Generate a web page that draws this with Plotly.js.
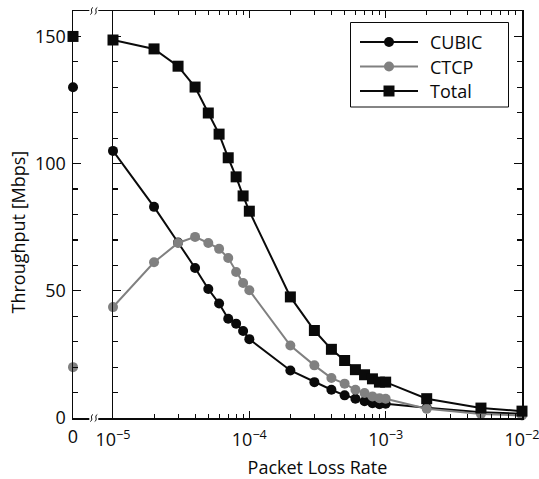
<!DOCTYPE html>
<html><head><meta charset="utf-8">
<script src="https://cdn.plot.ly/plotly-3.0.1.min.js"></script>
<style>html,body{margin:0;padding:0;background:#fff}</style>
</head><body><div id="chart" style="width:539px;height:479px"></div>
<script>
// ---- data ----
const lossRates = [1e-5,2e-5,3e-5,4e-5,5e-5,6e-5,7e-5,8e-5,9e-5,1e-4,2e-4,3e-4,4e-4,5e-4,6e-4,7e-4,8e-4,9e-4,1e-3,2e-3,5e-3,1e-2];
const cubic = [105,83,69,59,50.7,45,39,37.1,34.2,31,18.7,14.1,11.1,8.9,7.6,6.6,5.8,5.4,5.6,4.0,2.3,1.7];
const ctcp  = [43.6,61.2,68.8,71.2,68.8,66.5,62.9,57.4,53.1,50.2,28.5,20.7,15.7,13.5,11.1,9.8,8.5,7.8,7.6,3.6,1.6,1.0];
const total = [148.6,145.1,138.3,130.1,119.9,111.6,102.3,94.8,87.3,81.3,47.6,34.4,27.0,22.6,19.0,17.0,15.4,14.1,14.1,7.6,3.9,2.7];
const zeroLoss = [0];
const cubicZero = [130];
const ctcpZero = [20];
const totalZero = [150];
const seriesNames = ['CUBIC','CTCP','Total'];
const yTicks = [0,50,100,150];
const yMinor = [10,20,30,40,60,70,80,90,110,120,130,140,160];
const xTicks = [1e-5,1e-4,1e-3,1e-2];
const xTickText = ['10<sup>\u22125</sup>','10<sup>\u22124</sup>','10<sup>\u22123</sup>','10<sup>\u22122</sup>'];
const xMinor = [];
[1e-5,1e-4,1e-3].forEach(d => { for (let k=2;k<=9;k++) xMinor.push(k*d); });

// ---- styling ----
const BLACK = '#0a0a0a', GREY = '#808080';
const W = 539, H = 479, L = 73, R = 17, T = 11, B = 61;
const pw = W - L - R, ph = H - T - B;
const splitPx = 113;
const split = (splitPx - L) / pw;
const FONT = 'Open Sans, sans-serif';
const FS = 18;
const EPS = 1e-6; // keep the end points inside the axis range despite float rounding
const seriesStyle = [
  {color: BLACK, symbol: 'circle', size: 10},
  {color: GREY, symbol: 'circle', size: 10},
  {color: BLACK, symbol: 'square', size: 11}
];

function mk(i, x, y, xa, ya) {
  const s = seriesStyle[i];
  return {
    type: 'scatter', mode: 'lines+markers', name: seriesNames[i], x: x, y: y,
    xaxis: xa, yaxis: ya, showlegend: false, cliponaxis: false,
    line: {color: s.color, width: 2},
    marker: {color: s.color, symbol: s.symbol, size: s.size}
  };
}
const data = [
  mk(0, lossRates, cubic, 'x2', 'y2'),
  mk(1, lossRates, ctcp, 'x2', 'y2'),
  mk(2, lossRates, total, 'x2', 'y2'),
  mk(0, zeroLoss, cubicZero, 'x', 'y'),
  mk(1, zeroLoss, ctcpZero, 'x', 'y'),
  mk(2, zeroLoss, totalZero, 'x', 'y')
];

function fx(px) { return (px - L) / pw; }
function fy(py) { return (H - B - py) / ph; }
function P(px, py) { return [fx(px).toFixed(5), fy(py).toFixed(5)]; }
function squiggle(sx, cy) {
  const a = P(sx + 1.3, cy - 3.5), b = P(sx - 2.2, cy - 1.5), c = P(sx + 2.2, cy + 1.5), d = P(sx - 1.3, cy + 3.5);
  return {type: 'path', xref: 'paper', yref: 'paper', layer: 'above',
    path: `M${a[0]},${a[1]} C${b[0]},${b[1]} ${c[0]},${c[1]} ${d[0]},${d[1]}`,
    line: {color: BLACK, width: 1}};
}
function gap(cx, cy) {
  return {type: 'rect', xref: 'paper', yref: 'paper', layer: 'above',
    x0: fx(cx - 4.5), y0: fy(cy - 2), x1: fx(cx + 4.5), y1: fy(cy + 2), fillcolor: '#fff', line: {width: 0}};
}
const shapes = [];
[T, H - B].forEach(cy => {
  shapes.push(gap(93.8, cy));
  shapes.push(squiggle(91.6, cy));
  shapes.push(squiggle(96.0, cy));
});

// ---- manual legend (box, sample lines, sample markers, labels) ----
const annotations = [];
const LEG = {x0: 350.5, x1: 508.5, y0: 22.5, y1: 107, lineX0: 360, lineX1: 418, markX: 389, textX: 428, rowY: [42, 66.5, 91]};
shapes.push({type: 'rect', xref: 'paper', yref: 'paper', layer: 'above',
  x0: fx(LEG.x0), x1: fx(LEG.x1), y0: fy(LEG.y1), y1: fy(LEG.y0), fillcolor: '#fff', line: {color: BLACK, width: 1}});
seriesNames.forEach((name, i) => {
  const s = seriesStyle[i], ry = LEG.rowY[i];
  shapes.push({type: 'line', xref: 'paper', yref: 'paper', layer: 'above',
    x0: fx(LEG.lineX0), x1: fx(LEG.lineX1), y0: fy(ry), y1: fy(ry), line: {color: s.color, width: 2}});
  const r = s.size / 2;
  shapes.push({type: s.symbol === 'circle' ? 'circle' : 'rect', xref: 'paper', yref: 'paper', layer: 'above',
    xsizemode: 'pixel', ysizemode: 'pixel', xanchor: fx(LEG.markX), yanchor: fy(ry),
    x0: -r, x1: r, y0: -r, y1: r, fillcolor: s.color, line: {width: 0}});
  annotations.push({text: name, xref: 'paper', yref: 'paper', x: fx(LEG.textX), y: fy(ry),
    xanchor: 'left', yanchor: 'middle', showarrow: false, font: {family: FONT, size: FS, color: BLACK}});
});
annotations.push({text: 'Throughput [Mbps]', xref: 'paper', yref: 'paper', x: fx(17.5), y: fy(232),
  xanchor: 'center', yanchor: 'middle', textangle: -90, showarrow: false, font: {family: FONT, size: FS, color: BLACK}});

const axLine = {showline: true, linecolor: BLACK, linewidth: 1.5, showgrid: false, zeroline: false, fixedrange: true};
const layout = {
  width: W, height: H,
  margin: {l: L, r: R, t: T, b: B, pad: 0},
  paper_bgcolor: '#fff', plot_bgcolor: '#fff',
  font: {family: FONT, size: FS, color: BLACK},
  showlegend: false,
  xaxis: Object.assign({}, axLine, {domain: [0, split], range: [-EPS, 1], anchor: 'y', mirror: true,
    tickmode: 'array', tickvals: zeroLoss, ticktext: ['0'], ticks: '', tickfont: {size: FS}, ticklabelstandoff: 2}),
  yaxis: Object.assign({}, axLine, {anchor: 'x', range: [0, 160], tickmode: 'array', tickvals: yTicks,
    ticks: 'inside', ticklen: 8, tickwidth: 1.2, tickcolor: BLACK, tickfont: {size: FS}, ticklabelstandoff: 2,
    minor: {tickmode: 'array', tickvals: yMinor, ticks: 'inside', ticklen: 5, tickwidth: 1.2, tickcolor: BLACK, showgrid: false}}),
  xaxis2: Object.assign({}, axLine, {domain: [split, 1], anchor: 'y2', type: 'log', range: [-5 - EPS, -2 + EPS], mirror: 'ticks',
    tickmode: 'array', tickvals: xTicks, ticktext: xTickText, ticks: 'inside', ticklen: 7, tickwidth: 1.2, tickcolor: BLACK,
    tickfont: {size: FS}, ticklabelstandoff: 5, ticklabeloverflow: 'allow',
    minor: {tickmode: 'array', tickvals: xMinor, ticks: 'inside', ticklen: 4, tickwidth: 1, tickcolor: BLACK, showgrid: false},
    title: {text: 'Packet Loss Rate', font: {size: FS}, standoff: 18}}),
  yaxis2: Object.assign({}, axLine, {anchor: 'x2', range: [0, 160], mirror: 'ticks', showticklabels: false,
    tickmode: 'array', tickvals: yTicks, ticks: 'inside', ticklen: 8, tickwidth: 1.2, tickcolor: BLACK,
    minor: {tickmode: 'array', tickvals: yMinor, ticks: 'inside', ticklen: 5, tickwidth: 1.2, tickcolor: BLACK, showgrid: false}}),
  annotations: annotations,
  shapes: shapes
};
Plotly.newPlot('chart', data, layout, {displayModeBar: false, staticPlot: true});
</script></body></html>
